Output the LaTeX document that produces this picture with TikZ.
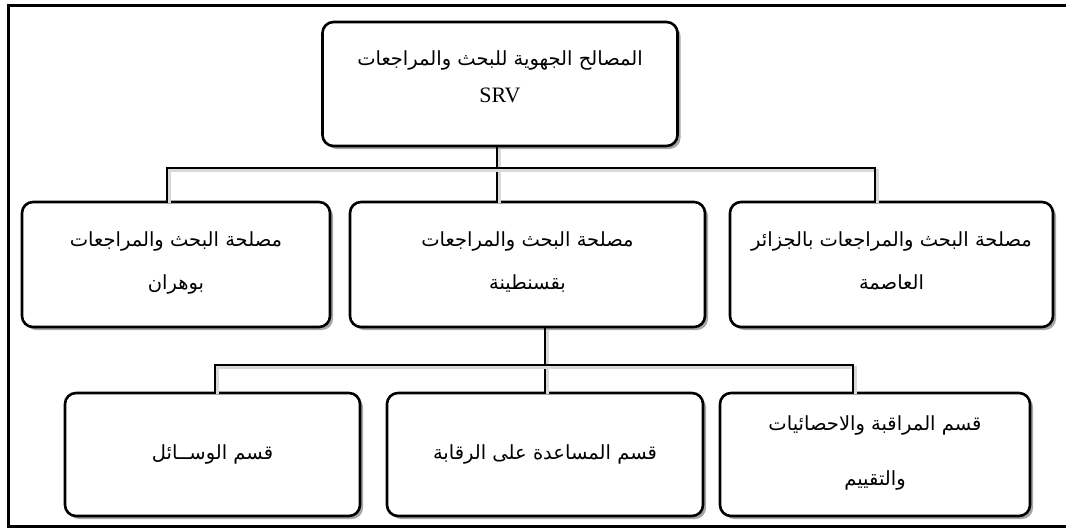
\documentclass[tikz,border=0pt]{standalone}
\usepackage{fontspec}
\setmainfont{Liberation Serif}
\newfontfamily\arabicfont[Script=Arabic]{DejaVu Sans}
\TeXXeTstate=1
\usepackage{tikz}
\usetikzlibrary{shadows}

\tikzset{
  unitbox/.style={draw,line width=2.6pt,rounded corners=11pt,fill=white,align=center,
    font=\fontsize{19.5}{26}\selectfont\arabicfont,inner sep=0pt,
    drop shadow={shadow xshift=3pt,shadow yshift=-3pt,opacity=0.35,fill=black}},
  link/.style={line width=2.6pt,line cap=rect,
    preaction={draw=black!15,line width=3pt,transform canvas={shift={(2pt,-2pt)}}}},
  frame/.style={line width=3pt}
}

\begin{document}
\begin{tikzpicture}[x=1pt,y=-1pt]
  \useasboundingbox (0,0) rectangle (1074,530);
  \draw[frame] (1066,5) -- (8.5,5) -- (8.5,526) -- (1066,526);

  % connectors
  \coordinate (jL) at (167,168); \coordinate (jR) at (875,168);
  \coordinate (kL) at (215,365); \coordinate (kR) at (853,365);
  \node[unitbox,minimum width=355pt,minimum height=124pt] (srv) at (500,84)
    {\beginR المصالح الجهوية للبحث والمراجعات\endR\\[11pt]{\rmfamily\fontsize{22}{26}\selectfont SRV}\\[-11pt]};
  \node[unitbox,minimum width=308pt,minimum height=125pt] (oran) at (176,264.5)
    {\beginR مصلحة البحث والمراجعات\endR\\[17pt]\beginR بوهران\endR\\[-18pt]};
  \node[unitbox,minimum width=355pt,minimum height=125pt] (qsn) at (527.5,264.5)
    {\beginR مصلحة البحث والمراجعات\endR\\[17pt]\beginR بقسنطينة\endR\\[-18pt]};
  \node[unitbox,minimum width=323pt,minimum height=125pt] (alg) at (891.5,264.5)
    {\beginR مصلحة البحث والمراجعات بالجزائر\endR\\[17pt]\beginR العاصمة\endR\\[-18pt]};
  \node[unitbox,minimum width=295pt,minimum height=123pt] (wasail) at (212.5,454.5)
    {\beginR قسم الوســائل\endR};
  \node[unitbox,minimum width=316pt,minimum height=123pt] (musaada) at (545,454.5)
    {\beginR قسم المساعدة على الرقابة\endR};
  \node[unitbox,minimum width=310pt,minimum height=123pt] (muraqaba) at (875,454.5)
    {\mbox{}\\[-14pt]\beginR قسم المراقبة والاحصائيات\endR\\[29pt]\beginR والتقييم\endR};

  \draw[link] (srv.south -| 497,0) -- (qsn.north -| 497,0);
  \draw[link] (oran.north -| jL) -- (jL) -- (jR) -- (alg.north -| jR);
  \draw[link] (qsn.south -| 545,0) -- (musaada.north);
  \draw[link] (wasail.north -| kL) -- (kL) -- (kR) -- (muraqaba.north -| kR);
\end{tikzpicture}
\end{document}
